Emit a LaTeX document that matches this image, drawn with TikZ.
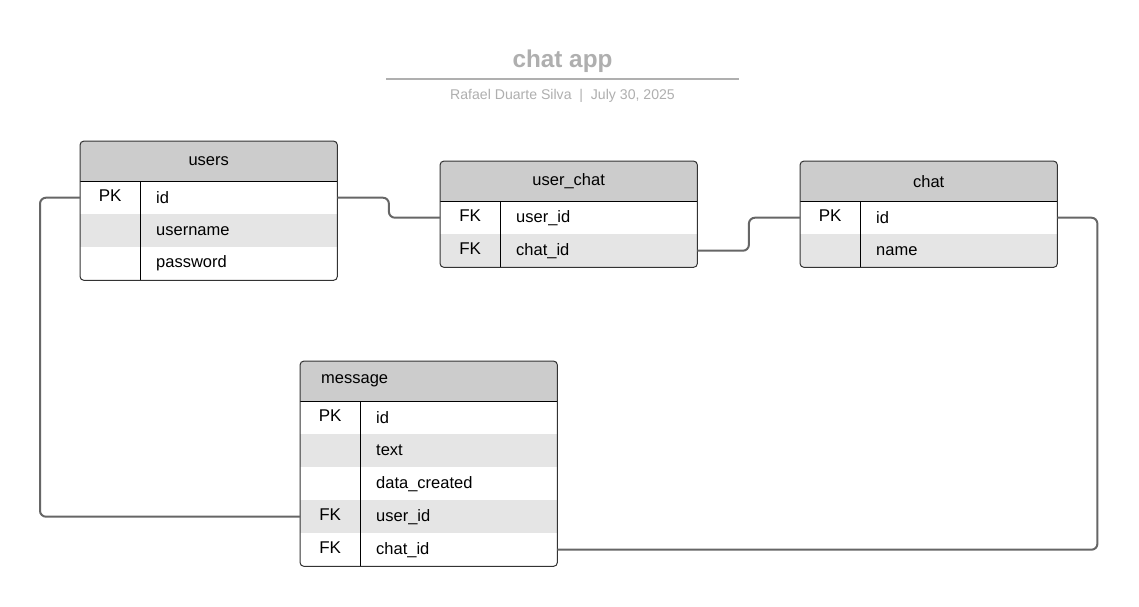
\documentclass[tikz,border=0pt]{standalone}
\usepackage{fontspec}
\setmainfont{Liberation Sans}
\usetikzlibrary{calc}
\definecolor{hdrgray}{HTML}{CCCCCC}
\definecolor{rowgray}{HTML}{E5E5E5}
\definecolor{bordercol}{HTML}{333333}
\definecolor{conncol}{HTML}{666666}
\definecolor{titlegray}{HTML}{AFAFAF}
\tikzset{
  hdr/.style={anchor=north west, minimum width=257pt, minimum height=40pt, inner sep=0pt, fill=hdrgray, font=\fontsize{16.5}{19}\selectfont},
  hdrl/.style={anchor=north west, minimum height=40pt, text width=215pt, inner xsep=21pt, inner ysep=0pt, align=left, fill=hdrgray, font=\fontsize{16.5}{19}\selectfont},
  keyc/.style={anchor=north west, minimum width=60pt, minimum height=33pt, inner sep=0pt, font=\fontsize{17}{19}\selectfont},
  keyt/.style={font=\fontsize{17}{19}\selectfont, inner sep=0pt},
  fld/.style={anchor=north west, minimum height=33pt, text width=165pt, inner xsep=16pt, inner ysep=0pt, align=left, font=\fontsize{16.5}{19}\selectfont},
  shade/.style={fill=rowgray},
  outline/.style={draw=bordercol, line width=1pt, rounded corners=4pt},
  divider/.style={draw=black, line width=1pt},
  conn/.style={draw=conncol, line width=2pt, rounded corners=6pt},
}
\begin{document}
\begin{tikzpicture}[x=1pt,y=-1pt]
\useasboundingbox (0,0) rectangle (1139,606);
\fill[white] (0,0) rectangle (1139,606);

% title
\node[font=\fontsize{24.3}{28}\selectfont\bfseries, text=titlegray] (title) at (562.5,61.5) {chat app};
\draw[draw=titlegray, line width=2pt] (386,79) coordinate (tl1) -- (739,79) coordinate (tl2);
\node[font=\fontsize{14.1}{16}\selectfont, text=titlegray] (subtitle) at (562.5,96) {Rafael Duarte Silva \ | \ July 30, 2025};

% ---------- users ----------
\begin{scope}
\clip[rounded corners=4pt] (80,141) rectangle (337,280);
\node[hdr] (users-h) at (80,141) {users};
\node[keyc] (users-id-k) at (80,181) {};
\node[fld] (users-id) at (140,181) {id};
\node[keyc, shade] (users-un-k) at (80,214) {};
\node[fld, shade] (users-un) at (140,214) {username};
\node[keyc] (users-pw-k) at (80,247) {};
\node[fld] (users-pw) at (140,247) {password};
\end{scope}
\node[keyt] (users-id-kt) at ([yshift=2.5pt]users-id-k.center) {PK};
\draw[divider] (users-h.south west) -- (users-h.south east);
\draw[divider] (users-id-k.north east) -- (users-pw-k.south east);
\draw[outline] (users-h.north west) rectangle (users-pw.south east);

% ---------- user_chat ----------
\begin{scope}
\clip[rounded corners=4pt] (440,161) rectangle (697,267);
\node[hdr] (uc-h) at (440,161) {user\_chat};
\node[keyc] (uc-uid-k) at (440,201) {};
\node[fld] (uc-uid) at (500,201) {user\_id};
\node[keyc, shade] (uc-cid-k) at (440,234) {};
\node[fld, shade] (uc-cid) at (500,234) {chat\_id};
\end{scope}
\node[keyt] (uc-uid-kt) at ([yshift=2.5pt]uc-uid-k.center) {FK};
\node[keyt] (uc-cid-kt) at ([yshift=2.5pt]uc-cid-k.center) {FK};
\draw[divider] (uc-h.south west) -- (uc-h.south east);
\draw[divider] (uc-uid-k.north east) -- (uc-cid-k.south east);
\draw[outline] (uc-h.north west) rectangle (uc-cid.south east);

% ---------- chat ----------
\begin{scope}
\clip[rounded corners=4pt] (800,161) rectangle (1057,267);
\node[hdr] (chat-h) at (800,161) {chat};
\node[keyc] (chat-id-k) at (800,201) {};
\node[fld] (chat-id) at (860,201) {id};
\node[keyc, shade] (chat-nm-k) at (800,234) {};
\node[fld, shade] (chat-nm) at (860,234) {name};
\end{scope}
\node[keyt] (chat-id-kt) at ([yshift=2.5pt]chat-id-k.center) {PK};
\draw[divider] (chat-h.south west) -- (chat-h.south east);
\draw[divider] (chat-id-k.north east) -- (chat-nm-k.south east);
\draw[outline] (chat-h.north west) rectangle (chat-nm.south east);

% ---------- message ----------
\begin{scope}
\clip[rounded corners=4pt] (300,361) rectangle (557,566);
\node[hdrl] (msg-h) at (300,361) {message};
\node[keyc] (msg-id-k) at (300,401) {};
\node[fld] (msg-id) at (360,401) {id};
\node[keyc, shade] (msg-tx-k) at (300,434) {};
\node[fld, shade] (msg-tx) at (360,434) {text};
\node[keyc] (msg-dc-k) at (300,467) {};
\node[fld] (msg-dc) at (360,467) {data\_created};
\node[keyc, shade] (msg-uid-k) at (300,500) {};
\node[fld, shade] (msg-uid) at (360,500) {user\_id};
\node[keyc] (msg-cid-k) at (300,533) {};
\node[fld] (msg-cid) at (360,533) {chat\_id};
\end{scope}
\node[keyt] (msg-id-kt) at ([yshift=2.5pt]msg-id-k.center) {PK};
\node[keyt] (msg-uid-kt) at ([yshift=2.5pt]msg-uid-k.center) {FK};
\node[keyt] (msg-cid-kt) at ([yshift=2.5pt]msg-cid-k.center) {FK};
\draw[divider] (msg-h.south west) -- (msg-h.south east);
\draw[divider] (msg-id-k.north east) -- (msg-cid-k.south east);
\draw[outline] (msg-h.north west) rectangle (msg-cid.south east);

% ---------- connectors ----------
\draw[conn] (users-id.east) -- ++(51.5,0) |- (uc-uid-k.west);
\draw[conn] (uc-cid.east) -- ++(51.5,0) |- (chat-id-k.west);
\draw[conn] (users-id-k.west) -- ++(-40,0) |- (msg-uid-k.west);
\draw[conn] (chat-id.east) -- ++(40,0) |- (msg-cid.east);
\end{tikzpicture}
\end{document}
